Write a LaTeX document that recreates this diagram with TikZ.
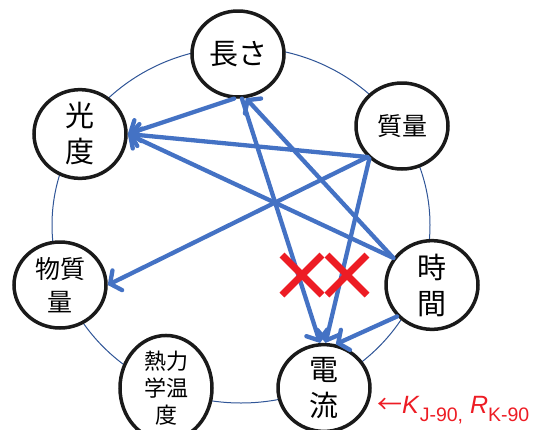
\documentclass[tikz,border=0pt]{standalone}
\usepackage{fontspec}
\setmainfont{Liberation Sans}
\newfontfamily\jp{Noto Sans CJK JP}
\usetikzlibrary{shapes.geometric,arrows.meta}
\definecolor{arrblue}{HTML}{4472C4}
\definecolor{ringblue}{HTML}{2F5597}
\definecolor{xred}{HTML}{ED1C24}
\definecolor{nodeblack}{HTML}{1A1A1A}
\begin{document}
\begin{tikzpicture}[x=1pt,y=-1pt,
  quantity/.style={ellipse, draw=nodeblack, line width=3.5pt, fill=white,
    minimum width=92pt, minimum height=86pt, inner sep=0pt, align=center,
    font=\jp\fontsize{29}{36}\selectfont},
  smallq/.style={font=\jp\fontsize{25}{33}\selectfont},
  tinyq/.style={font=\jp\fontsize{22}{27}\selectfont},
  dep/.style={draw=arrblue, line width=4.3pt, line cap=round,
    -{Straight Barb[length=8pt,width=22pt,line cap=round]}},
  crossline/.style={draw=xred, line width=7pt}
]
\useasboundingbox (0,0) rectangle (538,429);
\draw[ringblue, line width=1pt] (241,225) ellipse [x radius=189pt, y radius=178pt];

\node[quantity] (L) at (238,54) {長さ};
\node[quantity] (K) at (80,134) {光\\度};
\node[quantity, smallq] (M) at (402,126) {質量};
\node[quantity, smallq] (N) at (60,285) {物質\\量};
\node[quantity] (T) at (432,285) {時\\間};
\node[quantity] (I) at (324,388) {電\\流};
\node[quantity, tinyq] (H) at (166,388) {熱力\\学温\\度};

\draw[dep] (L.-95) -- (K.east);
\draw[dep] (M.222) -- (K.east);
\draw[dep] (T.145) -- (K.east);
\draw[dep] (T.145) -- (L.-80);
\draw[dep] (M.222) -- (N.east);
\draw[dep] (L.-85) -- (I.95);
\draw[dep] (M.225) -- (I.88);
\draw[dep] (T.222) -- (I.75);

\draw[crossline] (282,255) -- (322,295) (282,295) -- (322,255);
\draw[crossline] (327,255) -- (367,295) (327,295) -- (367,255);

\node[anchor=base west, text=xred, inner sep=0pt] (kr) at (377,413)
  {\fontsize{25}{25}\selectfont{\jp ←}\textit{K}\raisebox{-8pt}{\fontsize{19.5}{19.5}\selectfont J-90,} \textit{R}\raisebox{-8pt}{\fontsize{19.5}{19.5}\selectfont K-90}};
\end{tikzpicture}
\end{document}
